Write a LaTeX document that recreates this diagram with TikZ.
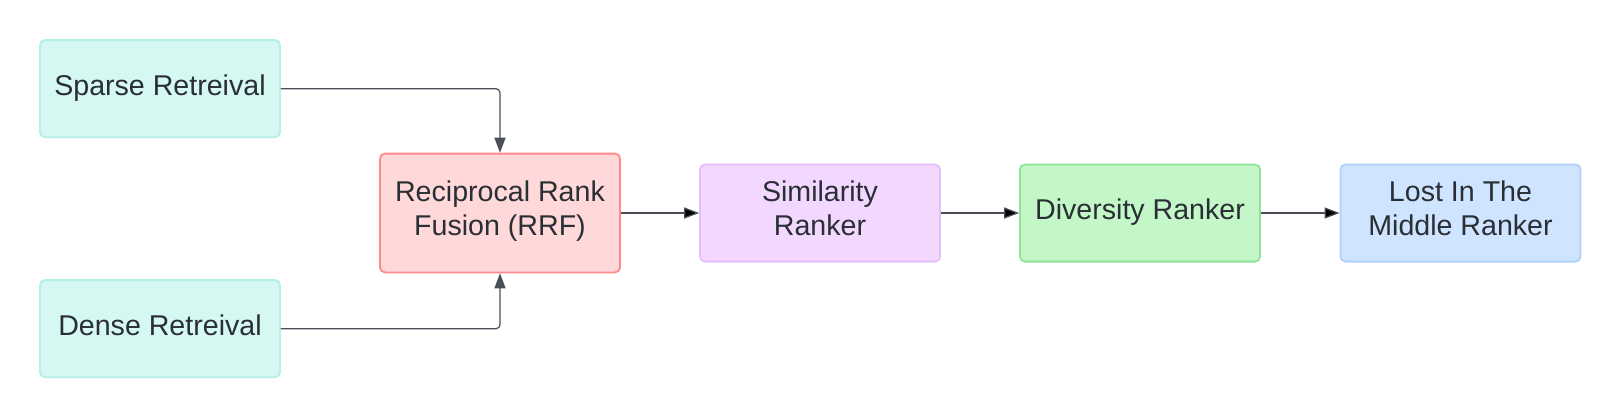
\documentclass[tikz,border=0pt]{standalone}
\usepackage{fontspec}
\setmainfont{Liberation Sans}
\usetikzlibrary{arrows.meta}

\definecolor{txt}{HTML}{2A2E35}
\definecolor{wire}{HTML}{4A4E57}
\definecolor{tealfill}{HTML}{D6F8F3}
\definecolor{tealline}{HTML}{B3F1E7}
\definecolor{redfill}{HTML}{FFD8D9}
\definecolor{redline}{HTML}{FF8A8A}
\definecolor{purpfill}{HTML}{F2D8FE}
\definecolor{purpline}{HTML}{E6BEFC}
\definecolor{greenfill}{HTML}{C3F7C8}
\definecolor{greenline}{HTML}{8CE497}
\definecolor{bluefill}{HTML}{CFE4FF}
\definecolor{blueline}{HTML}{B1D1FA}

\begin{document}
\begin{tikzpicture}[x=0.5pt,y=-0.5pt,
  box/.style={draw,line width=0.9pt,rounded corners=2.5pt,
    minimum width=120pt,minimum height=48.6pt,inner sep=0pt,
    align=center,text=txt,font=\fontsize{14.3}{17}\selectfont,
    execute at begin node=\strut,execute at end node=\strut},
  retr/.style={box,fill=tealfill,draw=tealline},
  fuse/.style={box,fill=redfill,draw=redline,minimum height=59.4pt},
  simr/.style={box,fill=purpfill,draw=purpline},
  divr/.style={box,fill=greenfill,draw=greenline},
  lostr/.style={box,fill=bluefill,draw=blueline},
  flow/.style={draw=wire,line width=0.6pt,rounded corners=2pt,
    -{Triangle[length=7.5pt,width=5.5pt]}}]
\useasboundingbox (0,0) rectangle (1620,419);

\node[retr] (sparse) at (160,88.7) {Sparse Retreival};
\node[retr] (dense) at (160,328.7) {Dense Retreival};
\node[fuse] (rrf) at (500,213) {Reciprocal Rank\\Fusion (RRF)};
\node[simr] (sim) at (820,213) {Similarity\\Ranker};
\node[divr] (div) at (1140,213) {Diversity Ranker};
\node[lostr] (lost) at (1460.5,213) {Lost In The\\Middle Ranker};

\draw[flow] (sparse.east) -| (rrf.north);
\draw[flow] (dense.east) -| (rrf.south);
\path[flow]
(rrf) edge (sim)
(sim) edge (div)
(div) edge (lost);
\end{tikzpicture}
\end{document}
